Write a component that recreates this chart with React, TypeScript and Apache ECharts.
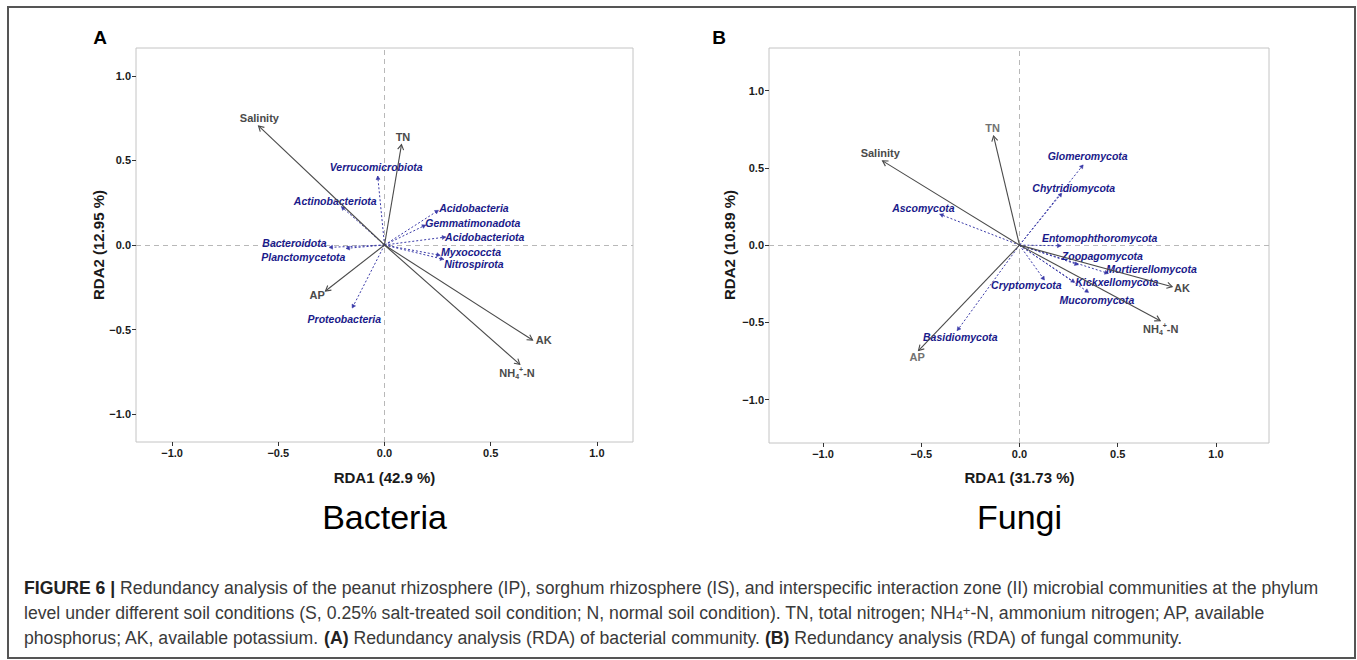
import React, { useEffect, useRef } from "react";
import * as echarts from "echarts";

// ---------- Bacteria (panel A) ----------
const bactEnvNames = ["Salinity", "TN", "AP", "AK", "NH4+-N"];
const bactEnvX = [-0.593, 0.08, -0.278, 0.697, 0.637];
const bactEnvY = [0.704, 0.594, -0.272, -0.562, -0.706];
const bactEnvLabelX = [-0.589, 0.087, -0.317, 0.75, 0.624];
const bactEnvLabelY = [0.75, 0.637, -0.298, -0.564, -0.755];

const bactSpNames = [
  "Verrucomicrobiota",
  "Actinobacteriota",
  "Acidobacteria",
  "Gemmatimonadota",
  "Acidobacteriota",
  "Myxococcta",
  "Nitrospirota",
  "Bacteroidota",
  "Planctomycetota",
  "Proteobacteria",
];
const bactSpX = [-0.032, -0.203, 0.254, 0.194, 0.288, 0.262, 0.279, -0.261, -0.181, -0.152];
const bactSpY = [0.408, 0.227, 0.205, 0.118, 0.047, -0.061, -0.085, -0.014, -0.02, -0.373];
const bactSpLabelX = [-0.039, -0.232, 0.421, 0.416, 0.472, 0.407, 0.421, -0.424, -0.382, -0.189];
const bactSpLabelY = [0.464, 0.258, 0.221, 0.128, 0.049, -0.039, -0.11, 0.014, -0.071, -0.438];

// ---------- Fungi (panel B) ----------
const fungEnvNames = ["Salinity", "TN", "AP", "AK", "NH4+-N"];
const fungEnvX = [-0.697, -0.132, -0.514, 0.777, 0.716];
const fungEnvY = [0.545, 0.706, -0.682, -0.269, -0.489];
const fungEnvLabelX = [-0.709, -0.137, -0.521, 0.827, 0.719];
const fungEnvLabelY = [0.598, 0.756, -0.726, -0.28, -0.545];

const fungSpNames = [
  "Glomeromycota",
  "Chytridiomycota",
  "Ascomycota",
  "Entomophthoromycota",
  "Zoopagomycota",
  "Mortierellomycota",
  "Kickxellomycota",
  "Mucoromycota",
  "Cryptomycota",
  "Basidiomycota",
];
const fungSpX = [0.324, 0.215, -0.406, 0.211, 0.299, 0.452, 0.281, 0.352, 0.127, -0.317];
const fungSpY = [0.519, 0.336, 0.2, -0.004, -0.127, -0.183, -0.241, -0.306, -0.226, -0.553];
const fungSpLabelX = [0.347, 0.276, -0.489, 0.408, 0.422, 0.672, 0.496, 0.394, 0.035, -0.301];
const fungSpLabelY = [0.577, 0.372, 0.241, 0.043, -0.069, -0.155, -0.241, -0.353, -0.258, -0.592];

const tickValues = [-1, -0.5, 0, 0.5, 1];

const axisTitlesX = ["RDA1 (42.9 %)", "RDA1 (31.73 %)"];
const axisTitlesY = ["RDA2 (12.95 %)", "RDA2 (10.89 %)"];
const panelLetters = ["A", "B"];
const panelNames = ["Bacteria", "Fungi"];

const captionLines = [
  "{b|FIGURE 6 |} Redundancy analysis of the peanut rhizosphere (IP), sorghum rhizosphere (IS), and interspecific interaction zone (II) microbial communities at the phylum",
  "level under different soil conditions (S, 0.25% salt-treated soil condition; N, normal soil condition). TN, total nitrogen; NH{sb|4}{sp|+}-N, ammonium nitrogen; AP, available",
  "phosphorus; AK, available potassium. {b|(A)} Redundancy analysis (RDA) of bacterial community. {b|(B)} Redundancy analysis (RDA) of fungal community.",
];

const FONT = "'Liberation Sans', Arial, Helvetica, sans-serif";
const ENV_COLOR = "#4a4a4a";
const ENV_LIGHT = "#727272";
const SP_TEXT = "#1a1a8a";
const SP_LINE = "#3a3aa8";
const CAP = 17.65;

function labelText(name: string) {
  if (name === "NH4+-N") return "{m|NH}{s|4}{p|+}{m|-N}";
  return name;
}

function arrowSeries(
  grid: number,
  names: string[],
  xs: number[],
  ys: number[],
  lxs: number[],
  lys: number[],
  kind: "env" | "sp",
  lightLabels: string[] = []
) {
  const isEnv = kind === "env";
  return {
    type: "custom",
    coordinateSystem: "cartesian2d",
    xAxisIndex: grid,
    yAxisIndex: grid,
    silent: true,
    z: isEnv ? 3 : 2,
    data: xs.map((x, i) => [x, ys[i], lxs[i], lys[i]]),
    renderItem: (params: any, api: any) => {
      const i = params.dataIndex;
      const o = api.coord([0, 0]);
      const t = api.coord([api.value(0), api.value(1)]);
      const l = api.coord([api.value(2), api.value(3)]);
      const ang = Math.atan2(t[1] - o[1], t[0] - o[0]);
      const L = isEnv ? 6 : 4;
      const a = Math.PI / 6;
      const p1 = [t[0] - L * Math.cos(ang - a), t[1] - L * Math.sin(ang - a)];
      const p2 = [t[0] - L * Math.cos(ang + a), t[1] - L * Math.sin(ang + a)];
      const color = isEnv ? ENV_COLOR : SP_LINE;
      const txtColor = isEnv ? (lightLabels.indexOf(names[i]) >= 0 ? ENV_LIGHT : ENV_COLOR) : SP_TEXT;
      const children: any[] = [
        {
          type: "line",
          shape: { x1: o[0], y1: o[1], x2: t[0], y2: t[1] },
          style: {
            stroke: color,
            lineWidth: isEnv ? 1.1 : 1,
            lineDash: isEnv ? null : [2, 2],
          },
        },
        isEnv
          ? {
              type: "polyline",
              shape: { points: [p1, t, p2] },
              style: { stroke: color, lineWidth: 1.1, fill: "none" },
            }
          : {
              type: "polygon",
              shape: { points: [p1, t, p2] },
              style: { fill: color, stroke: color, lineWidth: 0.5 },
            },
        {
          type: "text",
          x: l[0],
          y: l[1],
          style: {
            text: labelText(names[i]),
            fill: txtColor,
            fontFamily: FONT,
            fontSize: isEnv ? 11 : 10.5,
            fontWeight: "bold",
            fontStyle: isEnv ? "normal" : "italic",
            align: "center",
            verticalAlign: "middle",
            rich: {
              m: { fontSize: 11, fontWeight: "bold", fill: txtColor, fontFamily: FONT, lineHeight: 14 },
              s: { fontSize: 7, fontWeight: "bold", fill: txtColor, fontFamily: FONT, lineHeight: 8, verticalAlign: "bottom" },
              p: { fontSize: 7, fontWeight: "bold", fill: txtColor, fontFamily: FONT, lineHeight: 8, verticalAlign: "top" },
            },
          },
        },
      ];
      return { type: "group", children };
    },
    markLine: isEnv
      ? {
          silent: true,
          symbol: ["none", "none"],
          label: { show: false },
          lineStyle: { color: "#b8b8b8", type: [5, 4], width: 1 },
          data: [{ xAxis: 0 }, { yAxis: 0 }],
          z: 1,
        }
      : undefined,
  };
}

function makeAxis(grid: number, min: number, max: number) {
  return {
    type: "value",
    gridIndex: grid,
    min,
    max,
    axisLine: { show: false, onZero: false },
    axisTick: { show: true, length: 4, lineStyle: { color: "#333" }, customValues: tickValues },
    axisLabel: {
      customValues: tickValues,
      color: "#1a1a1a",
      fontWeight: "bold",
      fontSize: 11,
      fontFamily: FONT,
      margin: 5,
      formatter: (v: number) => v.toFixed(1).replace("-", "\u2212"),
    },
    splitLine: { show: false },
  };
}

export default function App() {
  const ref = useRef<HTMLDivElement>(null);
  useEffect(() => {
    if (!ref.current) return;
    const chart = echarts.init(ref.current, null, { renderer: "svg" });
    const gridA = { left: 136, top: 48, width: 497, height: 394 };
    const gridB = { left: 769, top: 48, width: 500, height: 395 };
    const centersX = [gridA.left + gridA.width * (1.17 / 2.34), gridB.left + gridB.width * (1.275 / 2.545)];
    const yTitleX = [98, 729];

    const graphics: any[] = [
      {
        type: "rect",
        shape: { x: 8, y: 7, width: 1347, height: 651 },
        style: { fill: "none", stroke: "#555", lineWidth: 2 },
        silent: true,
      },
    ];
    [0, 1].forEach((k) => {
      graphics.push({
        type: "text",
        x: k === 0 ? 100 : 719,
        y: 37,
        style: { text: panelLetters[k], fontFamily: FONT, fontSize: 19, fontWeight: "bold", fill: "#000", align: "center", verticalAlign: "middle" },
      });
      graphics.push({
        type: "text",
        x: centersX[k],
        y: 477,
        style: { text: axisTitlesX[k], fontFamily: FONT, fontSize: 15, fontWeight: "bold", fill: "#1a1a1a", align: "center", verticalAlign: "middle" },
      });
      graphics.push({
        type: "text",
        x: yTitleX[k],
        y: 245,
        rotation: Math.PI / 2,
        style: { text: axisTitlesY[k], fontFamily: FONT, fontSize: 15, fontWeight: "bold", fill: "#1a1a1a", align: "center", verticalAlign: "middle" },
      });
      graphics.push({
        type: "text",
        x: centersX[k],
        y: 517,
        style: { text: panelNames[k], fontFamily: FONT, fontSize: 34, fill: "#000", align: "center", verticalAlign: "middle" },
      });
    });
    captionLines.forEach((line, i) => {
      graphics.push({
        type: "text",
        x: 24,
        y: 588 + i * 25,
        style: {
          text: line,
          fontFamily: FONT,
          fontSize: CAP,
          fill: "#3a3a3a",
          align: "left",
          verticalAlign: "middle",
          rich: {
            b: { fontFamily: FONT, fontSize: CAP, fontWeight: "bold", fill: "#222", lineHeight: 22 },
            sb: { fontFamily: FONT, fontSize: 12, fill: "#3a3a3a", lineHeight: 12, verticalAlign: "bottom" },
            sp: { fontFamily: FONT, fontSize: 13, fill: "#3a3a3a", lineHeight: 13, verticalAlign: "top" },
          },
        },
      });
    });

    chart.setOption({
      animation: false,
      backgroundColor: "#fff",
      grid: [
        { ...gridA, show: true, borderColor: "#c4c4c4", borderWidth: 1, backgroundColor: "transparent" },
        { ...gridB, show: true, borderColor: "#c4c4c4", borderWidth: 1, backgroundColor: "transparent" },
      ],
      xAxis: [makeAxis(0, -1.17, 1.17), makeAxis(1, -1.275, 1.27)],
      yAxis: [makeAxis(0, -1.165, 1.165), makeAxis(1, -1.28, 1.275)],
      series: [
        arrowSeries(0, bactSpNames, bactSpX, bactSpY, bactSpLabelX, bactSpLabelY, "sp"),
        arrowSeries(0, bactEnvNames, bactEnvX, bactEnvY, bactEnvLabelX, bactEnvLabelY, "env"),
        arrowSeries(1, fungSpNames, fungSpX, fungSpY, fungSpLabelX, fungSpLabelY, "sp"),
        arrowSeries(1, fungEnvNames, fungEnvX, fungEnvY, fungEnvLabelX, fungEnvLabelY, "env", ["TN", "AP"]),
      ],
      graphic: graphics,
    });
    return () => chart.dispose();
  }, []);
  return (
    <div
      ref={ref}
      style={{ position: "fixed", left: 0, top: 0, width: 1357, height: 660, background: "#fff" }}
    />
  );
}
